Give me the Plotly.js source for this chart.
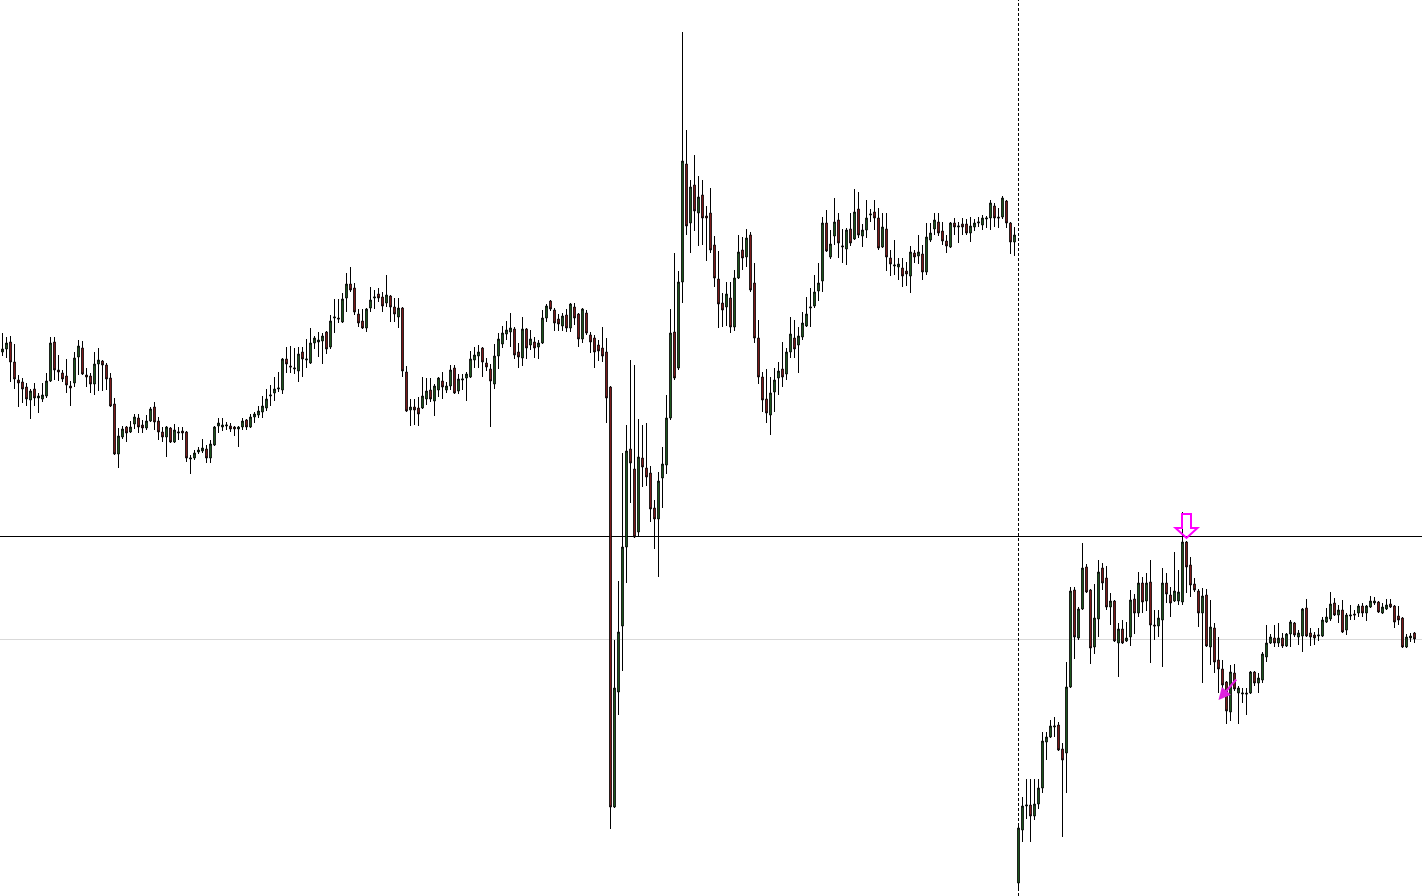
<!DOCTYPE html>
<html>
<head>
<meta charset="utf-8">
<script src="https://cdn.plot.ly/plotly-3.0.1.min.js"></script>
<style>
html,body{margin:0;padding:0;background:#ffffff;overflow:hidden;}
#chart{width:1422px;height:896px;}
</style>
</head>
<body>
<div id="chart"></div>
<script>
// Bar prices (arbitrary price units)
const open = [
544,547,554,534,516,514,509,496,507,498,
497,500,515,554,526,523,520,510,513,539,
548,521,520,512,532,535,531,518,492,442,
459,469,464,472,478,471,468,475,489,475,
464,459,468,454,463,465,464,437,438,444,
445,447,438,451,470,469,470,470,469,467,
469,476,469,479,481,484,488,500,503,507,
506,537,530,527,525,544,536,533,553,554,
555,564,549,578,578,574,598,612,608,582,
575,568,588,598,602,599,593,600,589,579,
588,524,486,489,488,488,497,506,495,506,
515,506,510,528,505,516,518,519,536,540,
548,533,527,512,540,552,562,564,567,544,
538,567,551,554,549,553,578,595,586,577,
570,581,568,589,582,557,583,561,558,551,
548,544,509,89,204,270,349,447,427,364,
438,428,423,388,377,418,431,478,564,528,
614,732,673,711,683,701,680,683,651,617,
593,589,598,569,618,646,639,661,613,558,
519,497,481,504,518,527,522,544,558,551,
559,570,588,590,605,615,673,639,660,676,
649,647,667,657,687,660,666,681,684,678,
649,667,638,630,629,628,625,620,643,640,
642,624,656,667,674,665,655,649,673,669,
672,672,663,669,673,671,677,678,690,679,
679,695,673,654,13,66,90,91,80,92,
108,154,159,169,171,147,143,209,306,258,
287,329,306,249,277,328,318,289,295,253,
267,255,259,297,283,313,295,314,271,270,
276,313,301,295,295,294,354,331,312,305,
283,301,249,268,236,227,214,184,223,203,
202,203,203,224,213,216,239,253,258,253,
258,250,262,273,259,260,288,263,261,260,
260,274,277,293,281,286,266,280,282,283,
290,283,289,293,294,283,287,292,290,280,
278,249,258,263];

const high = [
563,559,560,552,521,518,513,507,513,503,
513,523,559,559,541,526,537,515,544,556,
555,528,523,544,548,536,533,523,498,468,
470,470,475,482,482,476,481,489,494,479,
469,470,469,472,469,469,465,441,446,449,
457,451,456,470,478,478,474,473,470,470,
478,477,482,484,490,500,507,511,519,524,
538,549,550,548,549,549,557,568,560,564,
563,565,581,597,597,603,623,629,613,587,
587,588,609,606,608,604,621,601,598,598,
589,530,497,497,499,519,518,518,512,519,
524,514,531,531,522,522,524,545,549,551,
549,538,532,552,563,570,575,583,569,553,
579,568,566,559,556,586,592,596,588,582,
583,587,593,593,583,588,586,564,561,556,
569,558,510,256,315,443,471,536,531,477,
471,473,430,396,424,449,501,587,643,625,
864,766,716,741,720,716,690,708,660,645,
603,614,614,626,661,659,667,664,633,576,
524,527,519,528,534,554,548,579,576,569,
584,599,608,621,633,679,686,666,698,683,
667,668,683,707,704,672,696,687,696,688,
683,683,646,656,638,638,634,650,646,661,
651,673,673,683,683,674,661,674,678,674,
678,677,679,677,679,681,680,696,693,688,
700,696,674,669,73,99,117,117,117,117,
164,164,176,179,174,153,234,309,309,289,
353,332,307,312,336,333,330,303,296,273,
276,274,306,302,324,319,323,336,286,286,
328,323,309,344,326,384,355,339,318,307,
308,307,296,273,259,236,215,231,232,210,
208,208,225,225,223,244,271,262,271,273,
263,263,276,274,266,288,297,268,264,268,
279,288,304,298,291,296,283,291,286,292,
293,291,300,299,295,293,297,297,291,290,
279,262,263,264];

const low = [
540,538,514,507,489,493,490,477,490,483,
494,498,514,516,515,514,503,490,509,521,
521,509,503,501,505,505,506,489,441,428,
457,454,463,467,463,463,466,474,466,456,
454,439,453,453,456,456,434,422,436,442,
443,433,433,450,463,465,466,464,460,449,
466,466,468,473,478,478,485,490,495,504,
502,523,523,522,514,519,528,532,547,539,
532,542,547,563,573,573,584,604,581,569,
567,564,584,587,594,584,589,574,574,568,
519,484,470,471,470,487,491,494,480,499,
497,503,506,502,502,506,495,518,528,528,
519,525,469,507,527,548,556,549,537,528,
530,537,546,538,537,552,574,585,565,565,
565,564,564,571,549,553,561,543,528,535,
534,473,67,88,181,225,313,393,358,359,
409,410,374,347,319,388,422,476,516,526,
593,661,643,665,650,651,635,643,609,568,
569,570,563,565,617,626,629,604,553,512,
484,473,461,484,501,509,516,538,538,523,
556,569,569,588,595,604,644,637,651,638,
633,631,650,656,658,649,658,674,666,646,
648,625,620,621,616,609,610,603,633,632,
616,621,654,661,660,651,643,648,661,653,
661,661,654,665,669,666,668,666,669,668,
677,668,642,640,8,54,77,54,76,87,
103,136,158,159,145,59,103,208,237,256,
286,303,232,242,259,306,286,271,254,219,
252,254,250,262,279,283,285,233,256,259,
229,293,279,294,291,291,303,299,304,269,
213,249,231,223,203,203,172,175,205,172,
193,181,202,210,203,213,234,252,249,249,
248,249,249,259,251,244,259,250,251,255,
259,273,275,280,273,263,261,276,276,279,
279,275,288,291,283,282,286,288,268,271,
248,248,254,253];

const close = [
547,553,534,517,513,507,497,505,498,500,
501,515,553,526,524,517,511,508,538,550,
522,519,512,532,536,531,517,490,442,460,
467,463,469,479,469,468,475,487,474,464,
459,469,454,466,464,463,438,438,443,446,
448,438,452,469,473,471,471,467,467,469,
475,469,479,482,485,490,497,501,507,508,
537,532,529,528,542,537,537,553,558,556,
560,547,575,579,577,597,612,606,584,573,
568,587,596,599,598,590,601,589,582,588,
525,485,489,486,482,500,505,497,510,518,
509,510,526,503,517,517,522,537,541,544,
534,529,515,540,557,563,566,568,541,539,
567,548,557,548,553,578,590,587,573,572,
580,568,592,578,557,587,563,554,544,545,
540,498,89,208,264,349,445,433,359,439,
429,419,387,377,415,432,478,563,518,614,
735,670,709,685,699,678,678,646,618,592,
586,602,569,618,644,638,658,606,558,519,
496,483,503,516,525,519,544,562,547,560,
573,582,589,604,613,673,645,652,674,653,
650,666,653,684,661,666,678,682,678,648,
669,639,632,631,632,620,622,644,639,644,
624,659,663,676,663,655,650,673,669,670,
669,663,670,673,674,678,678,693,678,678,
698,673,654,661,68,90,91,80,92,108,
155,159,170,170,146,136,209,305,259,287,
328,304,248,278,324,313,289,295,255,267,
253,258,296,283,313,294,313,271,270,278,
313,302,293,305,304,354,329,311,306,283,
300,250,269,234,227,211,185,224,207,208,
203,202,224,213,218,242,253,259,253,258,
250,262,274,261,263,287,260,259,258,261,
276,279,292,281,286,264,281,281,281,290,
283,290,295,295,284,289,291,289,274,276,
249,259,260,257];

// Bar index of each candle
const bars = open.map((_, i) => i);

// Chart objects
const levelPrice = 359.5;      // black horizontal level
const gridPrice = 256.5;       // light grey horizontal line
const separatorBar = 254;      // dotted vertical separator
const sellArrowBar = [296];    // hollow down arrow
const sellArrowPrice = [358];  // arrow tip price
const closeArrowBar = [304];   // small magenta arrow
const closeArrowPrice = [196];

const trace = {
  type: 'candlestick',
  x: bars, open: open, high: high, low: low, close: close,
  increasing: {line: {color: '#000000', width: 1}, fillcolor: '#2a7a2a'},
  decreasing: {line: {color: '#000000', width: 1}, fillcolor: '#b02424'},
  whiskerwidth: 0,
  hoverinfo: 'skip',
  showlegend: false
};

const shapes = [
  {type: 'line', xref: 'paper', x0: 0, x1: 1, yref: 'y', y0: gridPrice, y1: gridPrice,
   line: {color: '#d9d9d9', width: 1}, layer: 'below'},
  {type: 'line', xref: 'paper', x0: 0, x1: 1, yref: 'y', y0: levelPrice, y1: levelPrice,
   line: {color: '#000000', width: 1}, layer: 'below'},
  {type: 'line', xref: 'x', x0: separatorBar, x1: separatorBar, yref: 'paper', y0: 0, y1: 1,
   line: {color: '#000000', width: 1, dash: '3px,2px'}, layer: 'below'}
];
sellArrowBar.forEach((b, k) => {
  shapes.push({
    type: 'path', xref: 'x', yref: 'y',
    xsizemode: 'pixel', ysizemode: 'pixel',
    xanchor: b, yanchor: sellArrowPrice[k],
    path: 'M -4.5,24 L 4.5,24 L 4.5,10 L 11,10 L 0,0 L -11,10 L -4.5,10 Z',
    line: {color: '#ff00ff', width: 2}, fillcolor: 'rgba(0,0,0,0)'
  });
});

const annotations = closeArrowBar.map((b, k) => ({
  x: b, y: closeArrowPrice[k], xref: 'x', yref: 'y',
  text: '', showarrow: true, arrowhead: 2, arrowsize: 1.1, arrowwidth: 2.2,
  arrowcolor: '#e020e0', ax: 19, ay: -22, standoff: 0
}));

const layout = {
  width: 1422, height: 896,
  margin: {l: 0, r: 0, t: 0, b: 0, pad: 0},
  paper_bgcolor: '#ffffff', plot_bgcolor: '#ffffff',
  showlegend: false,
  boxgap: 0.4,
  xaxis: {range: [-0.625, 354.875], visible: false, showgrid: false, zeroline: false,
          rangeslider: {visible: false}, fixedrange: true},
  yaxis: {range: [0, 896], visible: false, showgrid: false, zeroline: false, fixedrange: true},
  shapes: shapes,
  annotations: annotations
};

Plotly.newPlot('chart', [trace], layout, {staticPlot: true, displayModeBar: false});
</script>
</body>
</html>
